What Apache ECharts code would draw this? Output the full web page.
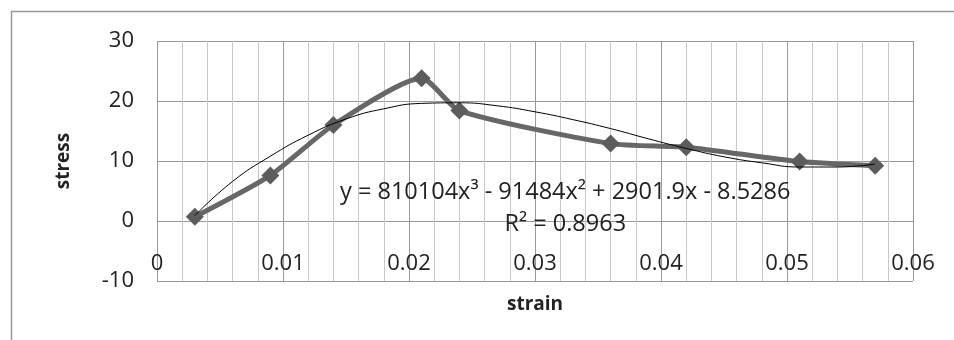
<!DOCTYPE html>
<html>
<head>
<meta charset="utf-8">
<script src="https://cdn.jsdelivr.net/npm/echarts@6/dist/echarts.min.js"></script>
<style>html,body{margin:0;padding:0;background:#fff}#c{width:954px;height:340px}</style>
</head>
<body>
<div id="c"></div>
<script>
// measured data (strain, stress)
const strain = [0.003, 0.009, 0.014, 0.021, 0.024, 0.036, 0.042, 0.051, 0.057];
const stress = [0.7, 7.6, 16.0, 23.8, 18.4, 12.9, 12.3, 9.9, 9.2];
// polynomial trendline
const trendX = [0.003, 0.006, 0.009, 0.012, 0.015, 0.018, 0.021, 0.024, 0.027, 0.030, 0.033, 0.036, 0.039, 0.042, 0.045, 0.048, 0.051, 0.054, 0.057];
const trendY = [0.9, 6.6, 10.8, 14.3, 17.0, 18.7, 19.6, 19.7, 19.2, 18.2, 16.9, 15.4, 13.7, 12.1, 10.7, 9.7, 9.0, 9.0, 9.5];
const equationText = 'y = 810104x³ - 91484x² + 2901.9x - 8.5286';
const r2Text = 'R² = 0.8963';
const xName = 'strain';
const yName = 'stress';

const FONT = '"Open Sans", "Noto Sans", sans-serif';
const chart = echarts.init(document.getElementById('c'), null, {renderer: 'canvas'});
const mainData = strain.map((x, i) => [x, stress[i]]);
const trendData = trendX.map((x, i) => [x, trendY[i]]);

chart.setOption({
  animation: false,
  backgroundColor: '#fff',
  grid: {left: 157, right: 41, top: 41, bottom: 59, containLabel: false},
  xAxis: {
    type: 'value', min: 0, max: 0.06, interval: 0.01,
    name: xName, nameLocation: 'middle', nameGap: 14,
    nameTextStyle: {fontFamily: FONT, fontWeight: 'bold', fontSize: 19, color: '#222', verticalAlign: 'top'},
    axisLine: {show: false}, axisTick: {show: false},
    axisLabel: {inside: true, margin: 6, fontFamily: FONT, fontSize: 22, color: '#222',
      formatter: v => v === 0 ? '0' : v.toFixed(2)},
    splitLine: {show: true, lineStyle: {color: '#999', width: 1}},
    minorTick: {show: false, splitNumber: 5},
    minorSplitLine: {show: true, lineStyle: {color: '#c8c8c8', width: 1}}
  },
  yAxis: {
    type: 'value', min: -10, max: 30, interval: 10,
    name: yName, nameLocation: 'middle', nameGap: 84, nameRotate: 90,
    nameTextStyle: {fontFamily: FONT, fontWeight: 'bold', fontSize: 19, color: '#222'},
    axisLine: {show: false}, axisTick: {show: false},
    axisLabel: {margin: 23, fontFamily: FONT, fontSize: 22, color: '#222'},
    splitLine: {show: true, lineStyle: {color: '#999', width: 1}}
  },
  series: [
    {
      type: 'line', data: mainData, smooth: 0.22,
      symbol: 'diamond', symbolSize: 18,
      lineStyle: {color: '#676767', width: 5},
      itemStyle: {color: '#5c5c5c'},
      z: 2
    },
    {
      type: 'line', data: trendData, smooth: true, showSymbol: false,
      lineStyle: {color: '#000', width: 1},
      z: 3
    }
  ]
});

const p1 = chart.convertToPixel({gridIndex: 0}, [0.0324, 4.7]);
const p2 = chart.convertToPixel({gridIndex: 0}, [0.0324, -0.5]);
chart.setOption({
  graphic: [
    {type: 'rect', shape: {x: 11.5, y: 11.5, width: 1200, height: 600},
      style: {fill: null, stroke: '#999', lineWidth: 1.5}, z: 0, silent: true},
    {type: 'text', x: p1[0], y: p1[1], z: 10,
      style: {text: equationText, font: '23.5px ' + FONT, fill: '#222', align: 'center', verticalAlign: 'middle'}},
    {type: 'text', x: p2[0], y: p2[1], z: 10,
      style: {text: r2Text, font: '23.5px ' + FONT, fill: '#222', align: 'center', verticalAlign: 'middle'}}
  ]
});
</script>
</body>
</html>
